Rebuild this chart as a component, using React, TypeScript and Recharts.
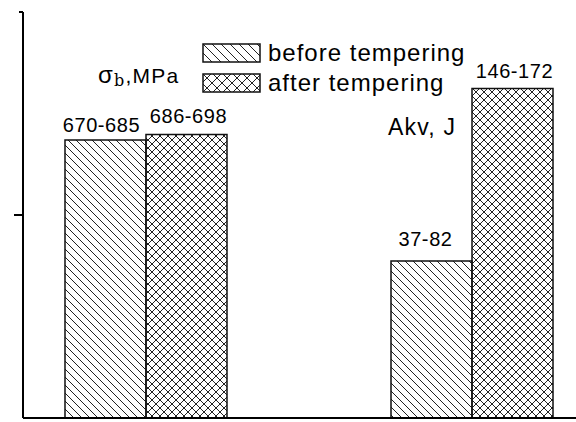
import React from 'react';
import { BarChart, Bar, XAxis, YAxis, Legend, LabelList } from 'recharts';

// Two properties measured before and after tempering, each on its own scale.
const properties = ['σb', 'Akv'];
const seriesNames = ['before tempering', 'after tempering'];
const beforeLow = [670, 37];
const beforeHigh = [685, 82];
const afterLow = [686, 146];
const afterHigh = [698, 172];
const scaleTop = [1000, 212];
const groupPosition = [1, 2];

const FONT = '"Liberation Sans", Arial, Helvetica, sans-serif';

// Label offsets relative to the top-centre of each bar: [before, after] per property.
const labelNudge = [
  [{ dx: -4, dy: -8 }, { dx: 2, dy: -12 }],
  [{ dx: -6, dy: -15 }, { dx: 2, dy: -11 }],
];

const rows = groupPosition.map((pos, i) => ({
  pos,
  [`before${i}`]: beforeHigh[i],
  [`after${i}`]: afterHigh[i],
  [`beforeLabel${i}`]: `${beforeLow[i]}-${beforeHigh[i]}`,
  [`afterLabel${i}`]: `${afterLow[i]}-${afterHigh[i]}`,
}));

const tickLengths = [9, 4, 7];

const YTick = (props: any) => {
  const { x, y, index } = props;
  const len = tickLengths[index] ?? 6;
  return (
    <g>
      <line x1={x - len} y1={y} x2={x} y2={y} stroke="#000" strokeWidth={2} />
      {index === 0 && <line x1={x} y1={y} x2={x} y2={y + 6} stroke="#000" strokeWidth={2} />}
    </g>
  );
};

const makeLabel = (group: number, series: number) => (props: any) => {
  const { x, y, width, value } = props;
  if (value == null || value === '') return null;
  const n = labelNudge[group][series];
  return (
    <text
      x={Number(x) + Number(width) / 2 + n.dx}
      y={Number(y) + n.dy}
      textAnchor="middle"
      fontFamily={FONT}
      fontSize={20}
      letterSpacing={0.6}
      fill="#000"
    >
      {value}
    </text>
  );
};

const LegendBox = () => (
  <div style={{ fontFamily: FONT, fontSize: 24, letterSpacing: 1, color: '#000' }}>
    {seriesNames.map((name, i) => (
      <div key={name} style={{ display: 'flex', alignItems: 'center', height: 19, marginBottom: i === 0 ? 11 : 0 }}>
        <svg width={59} height={20} style={{ display: 'block' }}>
          <rect x={1} y={1} width={57} height={18} fill={i === 0 ? 'url(#legendBefore)' : 'url(#legendAfter)'} stroke="#111" strokeWidth={1.5} />
        </svg>
        <span style={{ marginLeft: 7, lineHeight: '19px', whiteSpace: 'nowrap' }}>{name}</span>
      </div>
    ))}
  </div>
);

export default function App() {
  return (
    <div style={{ position: 'absolute', left: 0, top: 0, width: 576, height: 422, background: '#fff' }}>
      <BarChart
        width={576}
        height={422}
        data={rows}
        barGap={0}
        margin={{ top: 12, right: 0, bottom: 0, left: 13 }}
      >
        <defs>
          <pattern id="hatchBefore" patternUnits="userSpaceOnUse" width={8} height={8}>
            <path d="M0,0 L8,8 M-2,6 L2,10 M6,-2 L10,2" stroke="#222" strokeWidth={1} />
          </pattern>
          <pattern id="hatchAfter" patternUnits="userSpaceOnUse" width={8} height={8}>
            <path d="M0,0 L8,8 M-2,6 L2,10 M6,-2 L10,2 M8,0 L0,8 M-2,2 L2,-2 M6,10 L10,6" stroke="#222" strokeWidth={1} />
          </pattern>
          <pattern id="legendBefore" patternUnits="userSpaceOnUse" width={9} height={9}>
            <path d="M0,0 L9,9 M-2,7 L2,11 M7,-2 L11,2" stroke="#222" strokeWidth={1} />
          </pattern>
          <pattern id="legendAfter" patternUnits="userSpaceOnUse" width={10} height={10}>
            <path d="M0,0 L10,10 M-2,8 L2,12 M8,-2 L12,2 M10,0 L0,10 M-2,2 L2,-2 M8,12 L12,8" stroke="#222" strokeWidth={1} />
          </pattern>
        </defs>

        {properties.map((p, i) => (
          <XAxis
            key={`x${i}`}
            xAxisId={`x${i}`}
            dataKey="pos"
            type="number"
            domain={[0.6227, 2.319]}
            allowDataOverflow
            tickCount={2}
            ticks={[1.4785]}
            hide={i !== 0}
            height={4}
            tickSize={4}
            tick={false}
            axisLine={{ stroke: '#000', strokeWidth: 2 }}
            tickLine={{ stroke: '#000', strokeWidth: 2 }}
          />
        ))}
        {properties.map((p, i) => (
          <YAxis
            key={`y${i}`}
            yAxisId={`y${i}`}
            type="number"
            domain={[0, scaleTop[i]]}
            allowDataOverflow
            ticks={[0, scaleTop[i] / 2, scaleTop[i]]}
            hide={i !== 0}
            width={10}
            tickSize={0}
            tickMargin={0}
            tickLine={false}
            tick={<YTick />}
            axisLine={{ stroke: '#000', strokeWidth: 2 }}
          />
        ))}

        {properties.flatMap((p, i) => [
          <Bar
            key={`b${i}`}
            xAxisId={`x${i}`}
            yAxisId={`y${i}`}
            dataKey={`before${i}`}
            name={seriesNames[0]}
            barSize={81}
            fill="url(#hatchBefore)"
            stroke="#111"
            strokeWidth={1.5}
            isAnimationActive={false}
            legendType="none"
          >
            <LabelList dataKey={`beforeLabel${i}`} content={makeLabel(i, 0)} />
          </Bar>,
          <Bar
            key={`a${i}`}
            xAxisId={`x${i}`}
            yAxisId={`y${i}`}
            dataKey={`after${i}`}
            name={seriesNames[1]}
            barSize={81}
            fill="url(#hatchAfter)"
            stroke="#111"
            strokeWidth={1.5}
            isAnimationActive={false}
            legendType="none"
          >
            <LabelList dataKey={`afterLabel${i}`} content={makeLabel(i, 1)} />
          </Bar>,
        ])}

        <Legend
          layout="horizontal"
          align="center"
          verticalAlign="middle"
          content={<LegendBox />}
          wrapperStyle={{ position: 'absolute', left: 202, top: 43, width: 'auto', height: 'auto' }}
        />

        <text x={98} y={83} fontFamily={FONT} fontSize={21} letterSpacing={1.2} fill="#000">
          <tspan fontSize={24}>σ</tspan>
          <tspan fontFamily='"DejaVu Serif", "Liberation Serif", serif' fontSize={16} dy={3}>b</tspan>
          <tspan dy={-3}>,MPa</tspan>
        </text>
        <text x={388} y={135} fontFamily={FONT} fontSize={23} letterSpacing={1.2} fill="#000">
          Akv, J
        </text>
      </BarChart>
    </div>
  );
}
